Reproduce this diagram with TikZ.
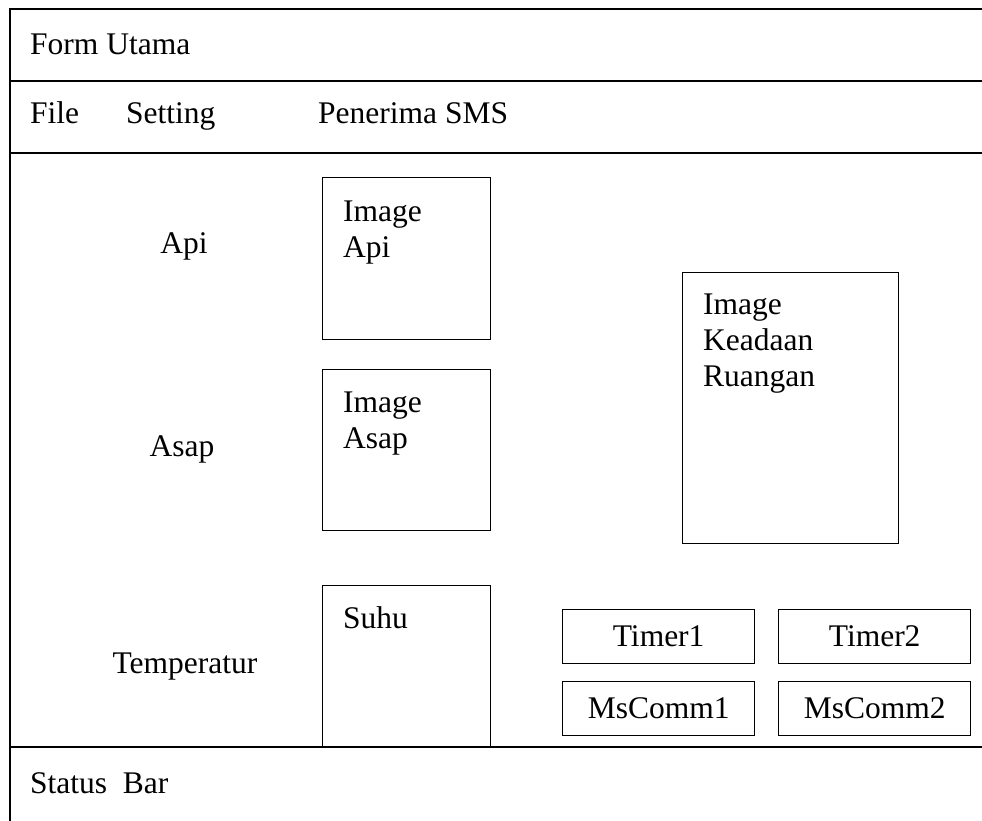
\documentclass[tikz,border=0pt]{standalone}
\usepackage{fontspec}
\setmainfont{Liberation Serif}
\usetikzlibrary{positioning,calc}

\begin{document}
\begin{tikzpicture}[x=1pt, y=-1pt,
        frame/.style={line width=1.6pt},
        box/.style={draw, line width=1.3pt, inner sep=0pt, anchor=north west},
        txt/.style={inner sep=0pt, font=\fontsize{31.5}{36}\selectfont},
        boxtxt/.style={txt, align=left, anchor=north west}]
        \useasboundingbox (0, 0) rectangle (982, 821);

        % Frame
        \coordinate (tl) at (10, 9);
        \coordinate (bl) at (10, 821);
        \coordinate (tr) at (982, 9);
        \draw[frame] (bl) -- (tl) -- (tr);
        \foreach \y in {81, 153, 747} {
            \draw[frame] (10, \y) -- (982, \y);
        }

        % Title, menu, status bar
        \node[txt, anchor=base west] (title) at (30, 55) {Form Utama};
        \node[txt, anchor=base west] (file) at (30, 124) {File};
        \node[txt, anchor=base west] (setting) at (126, 124) {Setting};
        \node[txt, anchor=base west] (penerima) at (318, 124) {Penerima SMS};
        \node[txt, anchor=base west] (status) at (30, 793) {Status\ \ Bar};

        % Labels
        \node[txt, anchor=base] (api) at (184, 253) {Api};
        \node[txt, anchor=base] (asap) at (182, 456) {Asap};
        \node[txt, anchor=base] (temp) at (185, 673) {Temperatur};

        % Image boxes
        \node[box, minimum width=168, minimum height=162] (imgapi) at (322, 177) {};
        \node[boxtxt] at ($(imgapi.north west)+(21, 24)$) {Image\\Api};
        \node[box, minimum width=168, minimum height=161] (imgasap) at (322, 369) {};
        \node[boxtxt] at ($(imgasap.north west)+(21, 23)$) {Image\\Asap};
        \node[box, minimum width=168, minimum height=161] (suhu) at (322, 585) {};
        \node[boxtxt] at ($(suhu.north west)+(21, 21)$) {Suhu};
        \node[box, minimum width=216, minimum height=271] (keadaan) at (682, 272) {};
        \node[boxtxt] at ($(keadaan.north west)+(21, 22)$) {Image\\Keadaan\\Ruangan};

        % Components
        \node[box, txt, draw, line width=1.3pt, minimum width=192, minimum height=54] (timer1) at (562, 609) {Timer1};
        \node[box, txt, draw, line width=1.3pt, minimum width=192, minimum height=54] (timer2) at (778, 609) {Timer2};
        \node[box, txt, draw, line width=1.3pt, minimum width=192, minimum height=54] (mscomm1) at (562, 681) {MsComm1};
        \node[box, txt, draw, line width=1.3pt, minimum width=192, minimum height=54] (mscomm2) at (778, 681) {MsComm2};
    \end{tikzpicture}
\end{document}
